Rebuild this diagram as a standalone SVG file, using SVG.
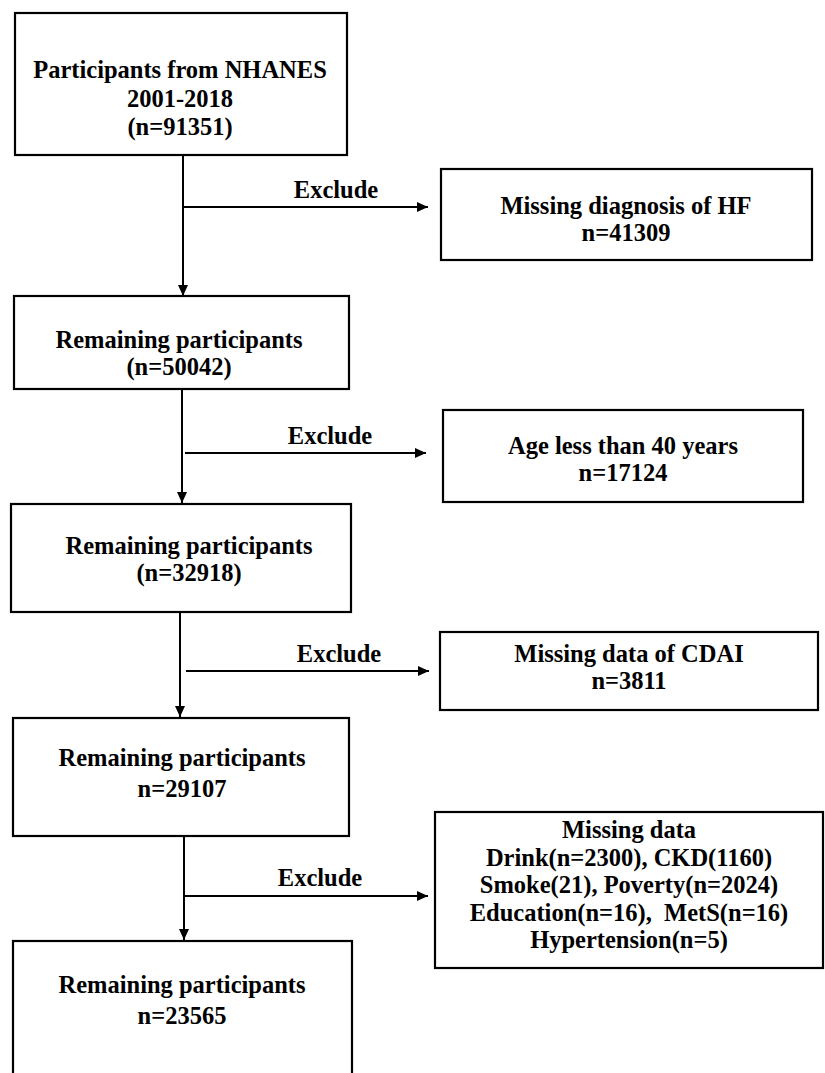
<svg xmlns="http://www.w3.org/2000/svg" width="825" height="1073" viewBox="0 0 825 1073">
<defs>
<marker id="ah" viewBox="0 0 11 10" refX="11" refY="5" markerWidth="11" markerHeight="10" markerUnits="userSpaceOnUse" orient="auto"><path d="M0,0 L11,5 L0,10 z" fill="#000"/></marker>
<style>
.box{fill:#fff;stroke:#000;stroke-width:2.2}
.t{font-family:"Liberation Serif","Times New Roman",serif;font-weight:bold;font-size:24.5px;fill:#000;text-anchor:middle}
.c{fill:none;stroke:#000;stroke-width:2;marker-end:url(#ah)}
</style>
</defs>
<rect width="825" height="1073" fill="#fff"/>
<g id="connectors">
<line class="c" x1="183" y1="155" x2="183" y2="296"/>
<line class="c" x1="183" y1="207" x2="428" y2="207"/>
<line class="c" x1="182" y1="389" x2="182" y2="503"/>
<line class="c" x1="185" y1="453" x2="426" y2="453"/>
<line class="c" x1="180" y1="612" x2="180" y2="717"/>
<line class="c" x1="186" y1="671" x2="429" y2="671"/>
<line class="c" x1="184" y1="836" x2="184" y2="940"/>
<line class="c" x1="185" y1="896" x2="428" y2="896"/>
</g>
<g id="n1"><rect class="box" x="15" y="13" width="332" height="142"/>
<text class="t" x="180" y="78">Participants from NHANES</text>
<text class="t" x="180" y="107">2001-2018</text>
<text class="t" x="180" y="135">(n=91351)</text></g>
<g id="e1"><text class="t" x="336" y="198">Exclude</text></g>
<g id="x1"><rect class="box" x="441" y="169" width="371" height="91"/>
<text class="t" x="626" y="214">Missing diagnosis of HF</text>
<text class="t" x="626" y="241">n=41309</text></g>
<g id="n2"><rect class="box" x="14" y="296" width="335" height="93"/>
<text class="t" x="179" y="348">Remaining participants</text>
<text class="t" x="179" y="375">(n=50042)</text></g>
<g id="e2"><text class="t" x="330" y="444">Exclude</text></g>
<g id="x2"><rect class="box" x="443" y="410" width="360" height="92"/>
<text class="t" x="623" y="454">Age less than 40 years</text>
<text class="t" x="623" y="481">n=17124</text></g>
<g id="n3"><rect class="box" x="11" y="504" width="340" height="108"/>
<text class="t" x="189" y="554">Remaining participants</text>
<text class="t" x="189" y="581">(n=32918)</text></g>
<g id="e3"><text class="t" x="339" y="662">Exclude</text></g>
<g id="x3"><rect class="box" x="440" y="632" width="378" height="78"/>
<text class="t" x="629" y="662">Missing data of CDAI</text>
<text class="t" x="629" y="689">n=3811</text></g>
<g id="n4"><rect class="box" x="13" y="718" width="336" height="118"/>
<text class="t" x="182" y="766">Remaining participants</text>
<text class="t" x="182" y="797">n=29107</text></g>
<g id="e4"><text class="t" x="320" y="886">Exclude</text></g>
<g id="x4"><rect class="box" x="435" y="812" width="388" height="156"/>
<text class="t" x="629" y="838">Missing data</text>
<text class="t" x="629" y="866">Drink(n=2300), CKD(1160)</text>
<text class="t" x="629" y="893">Smoke(21), Poverty(n=2024)</text>
<text class="t" x="629" y="921" xml:space="preserve">Education(n=16),  MetS(n=16)</text>
<text class="t" x="629" y="948">Hypertension(n=5)</text></g>
<g id="n5"><rect class="box" x="13" y="941" width="339" height="150"/>
<text class="t" x="182" y="993">Remaining participants</text>
<text class="t" x="182" y="1024">n=23565</text></g>
</svg>
